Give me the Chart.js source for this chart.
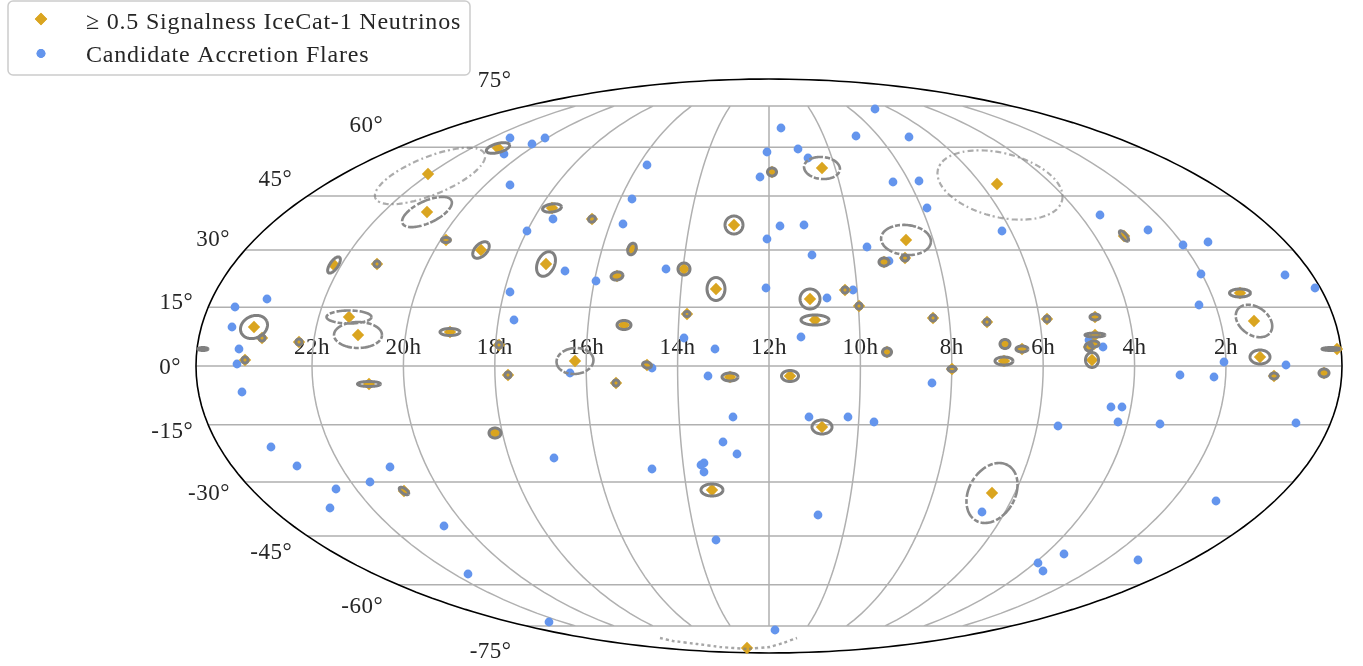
<!DOCTYPE html>
<html>
<head>
<meta charset="utf-8">
<title>Neutrinos and accretion flares</title>
<script src="https://cdn.jsdelivr.net/npm/chart.js@4/dist/chart.umd.js"></script>
<style>
  html, body { margin: 0; padding: 0; background: #fff; }
  #wrap { position: relative; width: 1363px; height: 666px; }
</style>
</head>
<body>
<div id="wrap"><canvas id="sky"></canvas></div>
<script>
// values are map-plane readings: right and up from the map centre (12h, 0 deg),
// the equator runs -573..573 and the poles sit at +-287
const flareX = [-259,-237,-224,-265,-259,-122,-137,-146,-216,-242,-204,-103,12,-2,29,39,-9,106,87,140,124,150,11,35,-2,43,98,120,158,233,331,379,414,439,-502,-534,-537,-530,-532,-527,-259,-255,-173,-3,84,58,-85,-54,32,-117,-199,-61,163,-36,40,79,105,432,516,546,430,334,320,455,517,411,445,-498,-472,-379,-399,-433,-439,-325,-301,-220,-215,-46,-32,-65,-68,-65,-117,49,-53,6,342,353,349,289,391,527,447,213,295,269,274,369];
const flareY = [228,222,228,212,181,201,167,142,147,135,95,97,238,214,217,208,189,257,230,229,184,185,140,141,127,111,119,105,158,135,151,136,121,124,67,59,39,17,2,-26,74,46,85,78,76,68,28,17,29,-2,-7,-10,-17,-51,-51,-51,-56,92,91,78,61,19,26,4,1,-9,-11,-81,-100,-101,-116,-123,-142,-160,-208,-256,-92,-76,-88,-97,-99,-106,-103,-149,-174,-264,-41,-41,-56,-60,-58,-57,-135,-146,-188,-197,-205,-194];

const neutrinoX = [-341,-342,-271,-217,-177,3,53,-35,-137,-223,-288,-85,137,115,136,228,355,-515,-507,-524,-470,-420,-411,-435,-392,-323,-319,-270,-261,-400,-152,-53,41,76,90,-82,-145,46,164,118,-194,-122,-153,-39,21,183,218,236,253,235,278,326,326,320,325,323,471,485,491,505,555,568,-274,-365,53,-57,-22,223];
const neutrinoY = [192,154,218,158,147,194,198,141,117,102,116,97,126,104,108,182,130,39,28,6,24,49,31,101,102,126,34,21,-9,-18,90,77,67,76,60,52,41,46,48,14,5,1,-17,-11,-10,-3,44,22,17,5,47,49,31,19,22,6,73,45,9,-10,-7,17,-67,-125,-61,-124,-282,-127];

// uncertainty contours: centre x, centre y, half axes, tilt in degrees
const contourRows = [
  [-339,190,59,19,22],[-342,154,27,11,25],[-271,218,12,4.5,15],[-217,158,9.5,4,8],
  [-177,147,3.5,3,30],[3,194,4.5,4,0],[53,198,18,11,-5],[-35,141,9,9,0],
  [-137,117,6,4,70],[-223,102,13,8.5,65],[-288,116,10,6,45],[-85,97,6,6,0],
  [137,126,25,15,-5],[115,104,5,4,0],[136,108,3.5,3,0],[231,181,64,32,-14],
  [355,130,6.5,2.5,-50],[-515,39,14,11,25],[-507,28,3,3,0],[-524,6,3,3,0],
  [-470,24,3,3,0],[-420,49,22.5,6.5,0],[-411,31,24,13,0],[-435,101,9.5,4,55],
  [-392,102,3,3,0],[-323,126,4.5,2.5,0],[-319,34,10,3.5,0],[-270,21,3,3,0],
  [-261,-9,3,3,0],[-400,-18,11.5,2.5,0],[-152,90,6,4,10],[-53,77,11.5,9,90],
  [41,67,10,10,0],[76,76,3,3,0],[90,60,3,3,0],[-82,52,3,2.5,0],
  [-145,41,7,4.5,0],[46,46,14,5,0],[164,48,3,3,0],[118,14,4.5,4,0],
  [-194,5,18.5,13,5],[-122,1,4.5,3,-15],[-153,-17,3,3,0],[-39,-11,8,4,0],
  [21,-10,8.5,5.5,0],[183,-3,4,2.5,0],[218,44,3,3,0],[236,22,5,4.5,0],
  [253,17,6,3,0],[235,5,9,4,0],[278,47,3,3,0],[326,49,5,3,0],
  [326,31,10,2,0],[320,19,4,4,0],[325,22,5,3,0],[323,6,7.5,6.5,90],
  [471,73,10.5,4,0],[485,45,20,14,-35],[491,9,10,7,0],[505,-10,4,3,0],
  [555,-7,5,4,0],[562,17,9,1.5,0],[-566,17,5,1.5,0],[-274,-67,6,5,0],
  [-365,-125,5.5,2.5,-35],[53,-61,10,7,0],[-57,-124,11,6,0],[223,-127,32,23,60],
];

// the contour around the southern neutrino bends along the map edge
const southArcX = [-109,-96,-72,-49,-22,1,14,28];
const southArcY = [-272,-275,-278,-281,-283,-281,-277,-272];

const raHours = [2,4,6,8,10,12,14,16,18,20,22];
const decTicks = [-75,-60,-45,-30,-15,0,15,30,45,60,75];
const decLabels = ['-75°','-60°','-45°','-30°','-15°','0°','15°','30°','45°','60°','75°'];

const neutrinoLabel = '\u2265 0.5 Signalness IceCat-1 Neutrinos';
const flareLabel = 'Candidate Accretion Flares';

const MAP_W = 573;
const MAP_H = 287;
const HOUR_W = 45.7;
const CENTER_PX = 769;
const CENTER_PY = 366;
const GOLD = '#daa520';
const BLUE = '#6495ed';
const FONT = '"Liberation Serif", "DejaVu Serif", serif';

// Mollweide auxiliary angle for a declination
function auxAngle(dec) {
  const lat = dec * Math.PI / 180;
  let t = lat;
  for (let i = 0; i < 30; i++) {
    t -= (2 * t + Math.sin(2 * t) - Math.PI * Math.sin(lat)) / (2 + 2 * Math.cos(2 * t));
  }
  return t;
}

const zip = (xs, ys) => xs.map((x, i) => ({ x, y: ys[i] }));

function gridPoints() {
  const pts = [];
  decTicks.forEach(d => {
    const t = auxAngle(d);
    const half = MAP_W * Math.cos(t);
    pts.push({ x: -half, y: MAP_H * Math.sin(t) }, { x: half, y: MAP_H * Math.sin(t) }, { x: null, y: null });
  });
  raHours.forEach(h => {
    for (let d = -75; d <= 75; d += 2.5) {
      const t = auxAngle(d);
      pts.push({ x: (12 - h) * HOUR_W * Math.cos(t), y: MAP_H * Math.sin(t) });
    }
    pts.push({ x: null, y: null });
  });
  return pts;
}

function outlinePoints() {
  const pts = [];
  for (let i = 0; i <= 360; i += 2) {
    const a = i * Math.PI / 180;
    pts.push({ x: MAP_W * Math.cos(a), y: MAP_H * Math.sin(a) });
  }
  return pts;
}

function contourPoints(keep) {
  const pts = [];
  contourRows.forEach(([cx, cy, a, b, tiltDeg]) => {
    if (!keep(a)) return;
    const tilt = tiltDeg * Math.PI / 180;
    for (let k = 0; k <= 60; k++) {
      const p = k / 60 * 2 * Math.PI;
      const u = a * Math.cos(p);
      const v = b * Math.sin(p);
      pts.push({
        x: cx + u * Math.cos(tilt) - v * Math.sin(tilt),
        y: cy + u * Math.sin(tilt) + v * Math.cos(tilt),
      });
    }
    pts.push({ x: null, y: null });
  });
  return pts;
}

const skyText = {
  id: 'skyText',
  beforeDatasetsDraw(chart) {
    const { ctx, scales } = chart;
    ctx.save();
    ctx.fillStyle = '#262626';
    ctx.font = '23px ' + FONT;
    ctx.letterSpacing = '0.5px';
    ctx.textBaseline = 'middle';
    ctx.textAlign = 'center';
    raHours.forEach(h => {
      ctx.fillText(h + 'h', scales.x.getPixelForValue((12 - h) * HOUR_W), CENTER_PY - 18);
    });
    ctx.textAlign = 'right';
    decTicks.forEach((d, i) => {
      const t = auxAngle(d);
      const s = Math.sin(t);
      const lift = d > 0 ? 30 * s : 26 * s;
      ctx.fillText(decLabels[i], scales.x.getPixelForValue(-MAP_W * Math.cos(t)) - 15, scales.y.getPixelForValue(MAP_H * s + lift) + 2);
    });
    ctx.restore();
  },
  afterDraw(chart) {
    const { ctx } = chart;
    ctx.save();
    ctx.beginPath();
    ctx.roundRect(8, 1, 462, 74, 5);
    ctx.fillStyle = 'rgba(255,255,255,0.8)';
    ctx.fill();
    ctx.strokeStyle = '#cccccc';
    ctx.lineWidth = 1.5;
    ctx.stroke();
    ctx.fillStyle = GOLD;
    Chart.helpers.drawPoint(ctx, { pointStyle: 'rectRot', radius: 6.2, borderWidth: 0 }, 41, 19);
    ctx.fill();
    ctx.beginPath();
    ctx.fillStyle = BLUE;
    Chart.helpers.drawPoint(ctx, { pointStyle: 'circle', radius: 4.4, borderWidth: 0 }, 41, 53.5);
    ctx.fill();
    ctx.fillStyle = '#262626';
    ctx.font = '24px ' + FONT;
    ctx.letterSpacing = '0.8px';
    ctx.textBaseline = 'middle';
    ctx.textAlign = 'left';
    ctx.fillText(neutrinoLabel, 86, 23);
    ctx.fillText(flareLabel, 86, 56);
    ctx.restore();
  },
};

// small tension keeps Chart.js off its fast path, which wrecks steep curves
const lineSet = (data, color, width, order, dash) => ({
  data,
  showLine: true,
  spanGaps: false,
  tension: 0.001,
  pointRadius: 0,
  borderColor: color,
  borderWidth: width,
  borderDash: dash || [],
  order,
});

const pointSet = (data, style, radius, color, order) => ({
  data,
  showLine: false,
  pointStyle: style,
  pointRadius: radius,
  pointBackgroundColor: color,
  pointBorderWidth: 0,
  order,
});

new Chart(document.getElementById('sky'), {
  type: 'scatter',
  data: {
    datasets: [
      lineSet(gridPoints(), '#b0b0b0', 1.5, 6),
      lineSet(outlinePoints(), '#000000', 1.6, 5),
      pointSet(zip(flareX, flareY), 'circle', 4.4, BLUE, 4),
      pointSet(zip(neutrinoX, neutrinoY), 'rectRot', 6.2, GOLD, 3),
      lineSet(contourPoints(a => a < 15), '#808080', 3, 2),
      lineSet(contourPoints(a => a >= 15 && a < 50), '#8a8a8a', 2.6, 2, [14, 2, 5, 2]),
      lineSet(contourPoints(a => a >= 50), 'rgba(128,128,128,0.65)', 2.2, 2, [6, 3, 2, 3]),
      lineSet(zip(southArcX, southArcY), 'rgba(128,128,128,0.7)', 2.4, 2, [3, 3]),
    ],
  },
  options: {
    responsive: true,
    maintainAspectRatio: false,
    animation: false,
    layout: { padding: 0, autoPadding: false },
    plugins: { legend: { display: false }, tooltip: { enabled: false } },
    scales: {
      x: { type: 'linear', display: false, min: -CENTER_PX, max: 1363 - CENTER_PX },
      y: { type: 'linear', display: false, min: CENTER_PY - 666, max: CENTER_PY },
    },
  },
  plugins: [skyText],
});
</script>
</body>
</html>
